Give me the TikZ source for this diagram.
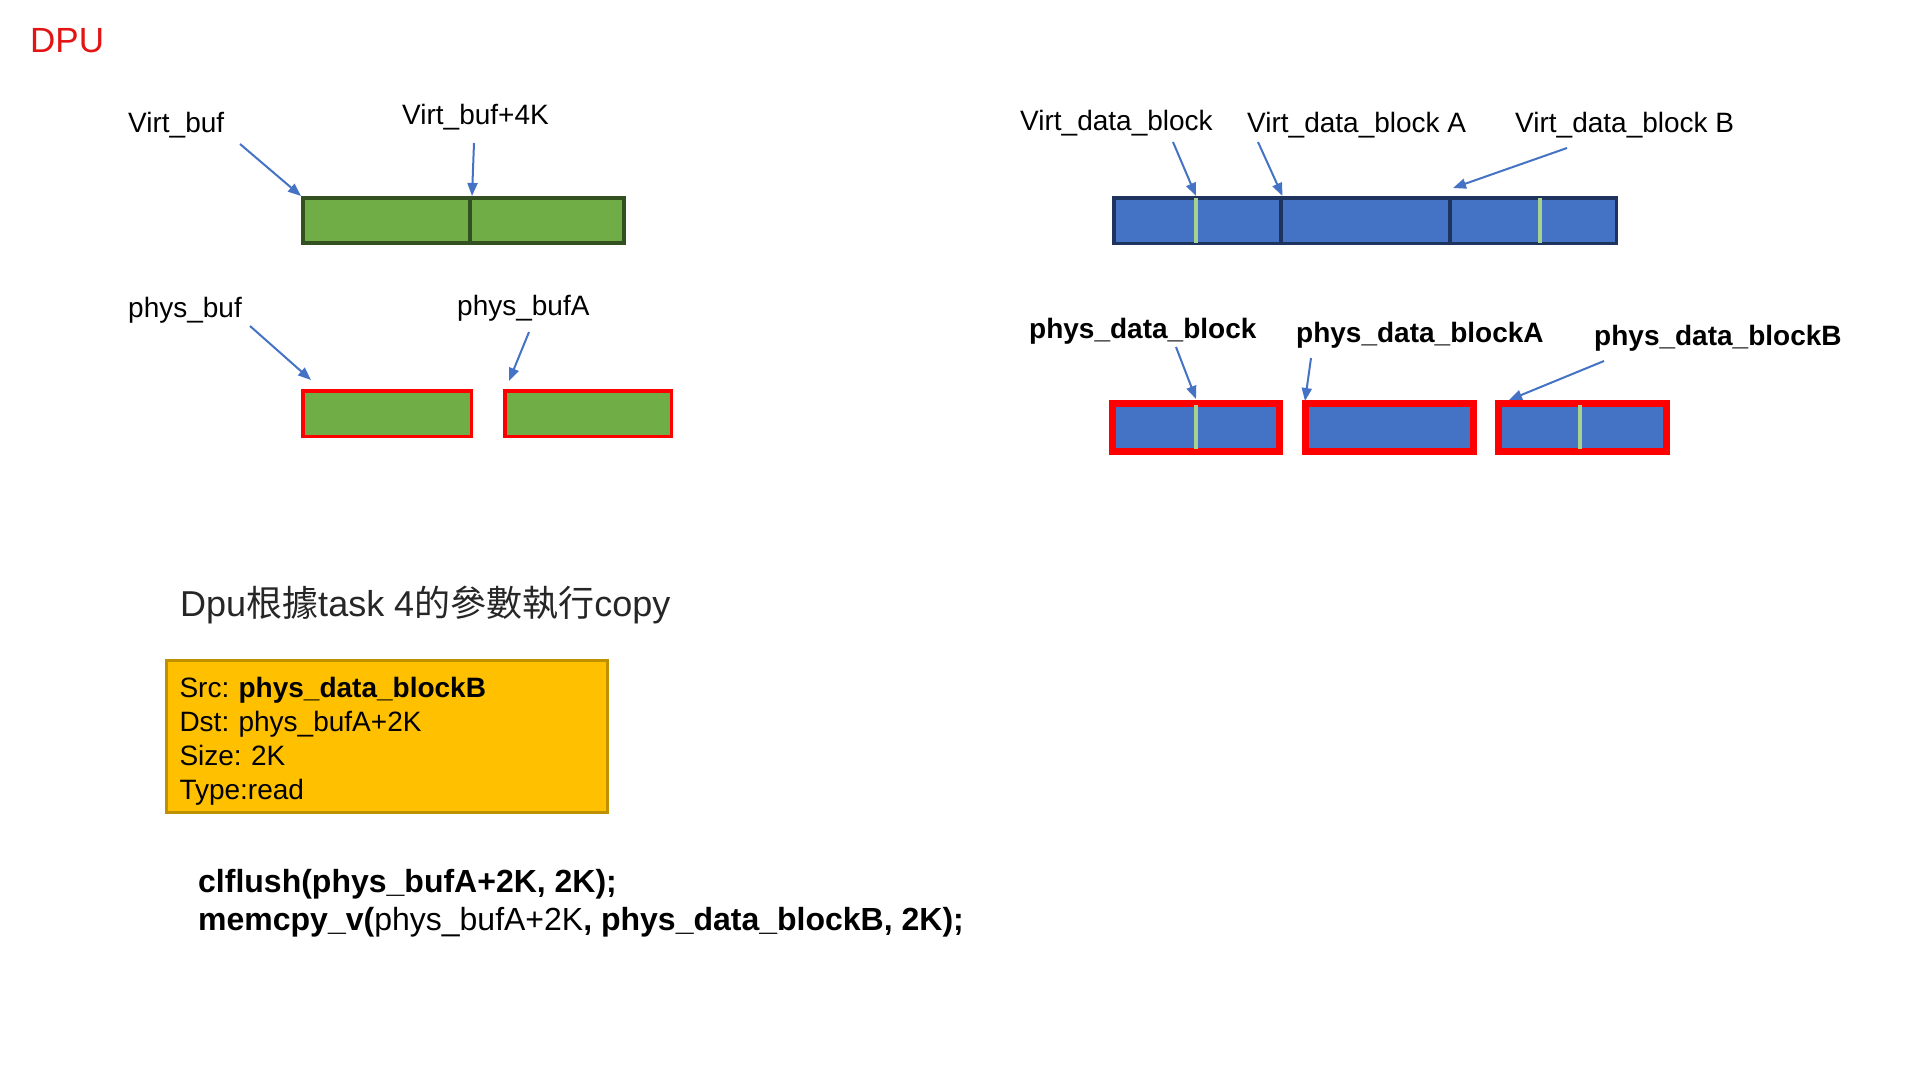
\documentclass[tikz,border=0pt]{standalone}
\usepackage{fontspec}
\setmainfont{Liberation Sans}
\newfontfamily\cjkfont{Noto Sans CJK TC}
\usetikzlibrary{arrows.meta}
\frenchspacing
\definecolor{dpured}{RGB}{226,20,20}
\definecolor{grfill}{RGB}{112,173,71}
\definecolor{grline}{RGB}{50,80,32}
\definecolor{blfill}{RGB}{68,114,196}
\definecolor{blline}{RGB}{30,52,94}
\definecolor{physred}{RGB}{255,0,0}
\definecolor{markgreen}{RGB}{169,209,142}
\definecolor{ptrblue}{RGB}{68,114,196}
\definecolor{taskfill}{RGB}{255,192,0}
\definecolor{taskline}{RGB}{191,144,0}
\tikzset{
    lbl/.style={anchor=west, inner sep=0pt, font=\fontsize{28}{32}\selectfont},
    blbl/.style={anchor=west, inner sep=0pt, font=\fontsize{28}{32}\selectfont\bfseries},
    seg/.style={anchor=north west, inner sep=0pt},
    vgreen/.style={seg, draw=grline, fill=grfill, line width=4pt, minimum height=45pt},
    pgreen/.style={seg, draw=physred, fill=grfill, line width=3.5pt, minimum height=45.5pt},
    vblue/.style={seg, draw=blline, fill=blfill, line width=3.5pt, minimum height=45.5pt},
    pblue/.style={seg, draw=physred, fill=blfill, line width=7pt, minimum height=48pt},
    markline/.style={draw=markgreen, line width=4pt},
    ptr/.style={draw=ptrblue, line width=2pt, -{Triangle[length=13pt,width=10pt]}}
}
\begin{document}
\begin{tikzpicture}[x=1pt, y=-1pt]
    \useasboundingbox (0,0) rectangle (1920,1080);
    % Title
    \node[anchor=west, inner sep=0pt, text=dpured, font=\fontsize{35}{40}\selectfont] (title) at (30,41) {DPU};
    %virtual buffer
    \node[vgreen, minimum width=167pt] (vbufL) at (301,196) {};
    \node[vgreen, minimum width=154pt] (vbufR) at (468,196) {};
    \node[lbl] (lVbuf) at (128,125) {Virt\_buf};
    \node[lbl] (lVbufK) at (402,117) {Virt\_buf+4K};
    %physical buffers
    \node[pgreen, minimum width=168.5pt] (pbuf) at (301,389) {};
    \node[pgreen, minimum width=166.5pt] (pbufA) at (503,389) {};
    \node[lbl] (lPbuf) at (128,310) {phys\_buf};
    \node[lbl] (lPbufA) at (457,308) {phys\_bufA};
    %virtual data block
    \node[vblue, minimum width=167pt] (vdb) at (1112,196) {};
    \node[vblue, minimum width=168.5pt] (vdbA) at (1279.5,196) {};
    \node[vblue, minimum width=166pt] (vdbB) at (1448.5,196) {};
    \draw[markline] (1196,198) -- (1196,243);
    \draw[markline] (1540,198) -- (1540,243);
    \node[lbl] (lVdb) at (1020,123) {Virt\_data\_block};
    \node[lbl] (lVdbA) at (1247,125) {Virt\_data\_block A};
    \node[lbl] (lVdbB) at (1515,125) {Virt\_data\_block B};
    %physical data blocks
    \node[pblue, minimum width=167pt] (pdb) at (1109,400) {};
    \node[pblue, minimum width=168pt] (pdbA) at (1302,400) {};
    \node[pblue, minimum width=168pt] (pdbB) at (1495,400) {};
    \draw[markline] (1196,405) -- (1196,449);
    \draw[markline] (1580,405) -- (1580,449);
    \node[blbl] (lPdb) at (1029,331) {phys\_data\_block};
    \node[blbl] (lPdbA) at (1296,335) {phys\_data\_blockA};
    \node[blbl] (lPdbB) at (1594,338) {phys\_data\_blockB};
    %pointers
    \coordinate (tVbuf) at (240,144);
    \coordinate (tVbufK) at (474,143);
    \coordinate (tPbuf) at (250,326);
    \coordinate (hPbuf) at (311,380);
    \coordinate (tPbufA) at (529,332);
    \coordinate (hPbufA) at (509,381);
    \coordinate (tVdb) at (1173,142);
    \coordinate (hVdb) at (1196,196);
    \coordinate (tVdbA) at (1258,142);
    \coordinate (tVdbB) at (1567,148);
    \coordinate (hVdbB) at (1453,188);
    \coordinate (tPdb) at (1176,347);
    \coordinate (hPdb) at (1196,399);
    \coordinate (tPdbA) at (1311,358);
    \coordinate (hPdbA) at (1305,401);
    \coordinate (tPdbB) at (1604,361);
    \coordinate (hPdbB) at (1509,400);
    \draw[ptr] (tVbuf) -- (vbufL.north west);
    \draw[ptr] (tVbufK) -- (vbufL.north east);
    \draw[ptr] (tPbuf) -- (hPbuf);
    \draw[ptr] (tPbufA) -- (hPbufA);
    \draw[ptr] (tVdb) -- (hVdb);
    \draw[ptr] (tVdbA) -- (vdb.north east);
    \draw[ptr] (tVdbB) -- (hVdbB);
    \draw[ptr] (tPdb) -- (hPdb);
    \draw[ptr] (tPdbA) -- (hPdbA);
    \draw[ptr] (tPdbB) -- (hPdbB);
    %task
    \node[anchor=west, inner sep=0pt, font=\fontsize{36}{42}\selectfont, text=black!85] (head) at (180,605)
        {Dpu{\cjkfont 根據}task 4{\cjkfont 的參數執行}copy};
    \node[seg, draw=taskline, fill=taskfill, line width=3pt, minimum width=441pt, minimum height=152pt,
        text width=415pt, inner xsep=13pt, align=left, font=\fontsize{28}{34}\selectfont] (task) at (165,659)
        {\rule{0pt}{29pt}Src: \textbf{phys\_data\_blockB}\\Dst: phys\_bufA+2K\\Size: 2K\\Type:read};
    \node[anchor=west, inner sep=0pt, align=left, font=\fontsize{32}{38}\selectfont\bfseries] (code) at (198,903)
        {clflush(phys\_bufA+2K, 2K);\\memcpy\_v(\textmd{phys\_bufA+2K}, phys\_data\_blockB, 2K);};
\end{tikzpicture}
\end{document}
